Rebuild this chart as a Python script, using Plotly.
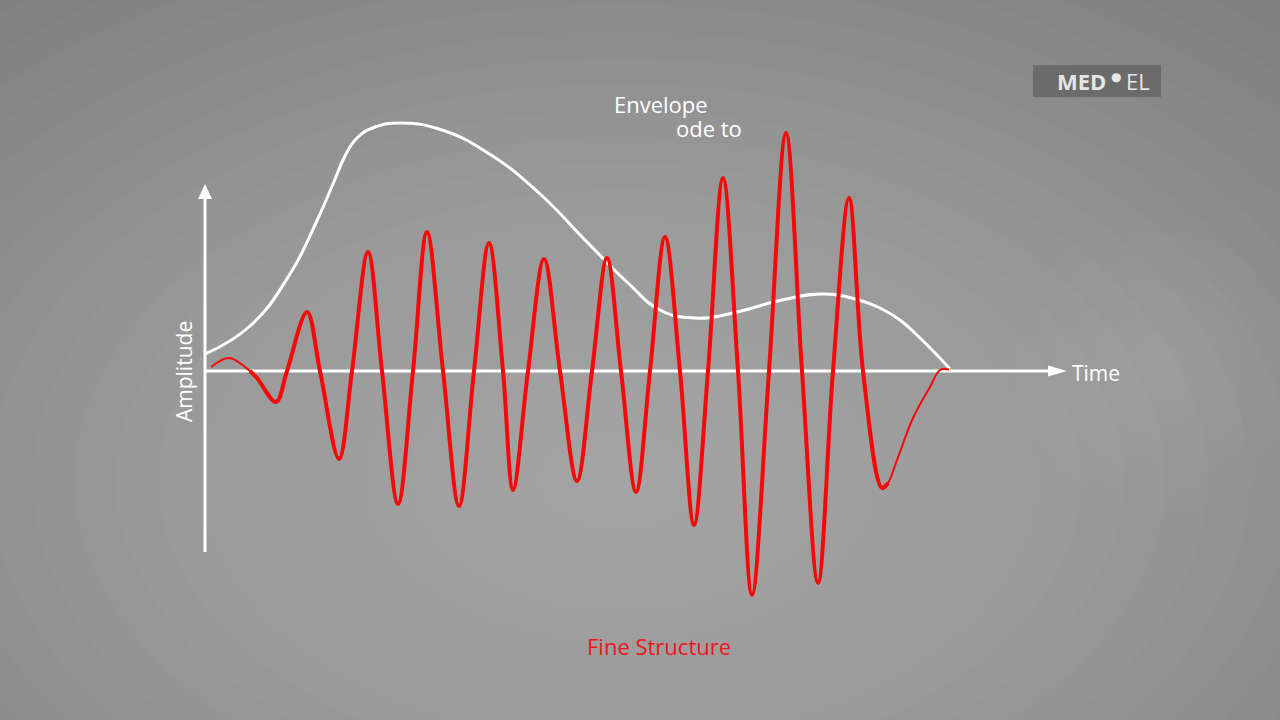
import plotly.graph_objects as go

# ---------------- data (time measured from origin, amplitude above the time axis) ----
fs_time = [6, 24, 45, 52, 71, 82, 102, 115, 134, 147, 163, 177, 193, 208, 222, 238, 254,
           269, 284, 298, 308, 323, 339, 355, 372, 387, 402, 416, 431, 445, 460, 475,
           489, 503, 518, 533, 547, 564, 581, 597, 613, 628, 644, 658, 677, 683, 692, 708,
           725, 735, 744]
fs_amp = [4, 13, 0, -7, -31, 0, 59, 0, -88, 0, 119, 0, -133, 0, 139, 0, -135,
          0, 128, 0, -119, 0, 112, 0, -110, 0, 113, 0, -121, 0, 134, 0,
          -154, 0, 193, 0, -224, 0, 238, 0, -212, 0, 173, 0, -117, -112, -89, -47,
          -16, 1, 1.5]

env_time = [0, 45, 85, 110, 128, 140, 152, 170, 195, 237, 286, 334,
            383, 422, 455, 489, 528, 577, 620, 654, 675, 695, 715, 732, 745]
env_amp = [17, 45, 97, 146, 187, 215, 233, 244, 248, 241, 216, 178,
           128, 89, 61, 53, 58, 71, 77, 71, 63, 51, 33, 16, 2]

labels = {"envelope_1": "Envelope", "envelope_2": "ode to", "time": "Time",
          "amplitude": "Amplitude", "fine": "Fine Structure"}

# ---------------- layout helpers ----------------
W, H = 1280, 720
OX, OY = 205, 371          # origin of the time/amplitude axes in the picture
FONT = "Open Sans"
RED = "#f50808"

fig = go.Figure()

# envelope (white)
fig.add_trace(go.Scatter(x=env_time, y=env_amp, mode="lines",
                         line=dict(color="white", width=3, shape="spline", smoothing=1.3),
                         hoverinfo="skip"))

# fine structure: thin full wave, thick body drawn on top
i_start = 2     # thick part begins here
i_end = 45      # thick part ends here
fig.add_trace(go.Scatter(x=fs_time, y=fs_amp, mode="lines",
                         line=dict(color=RED, width=2, shape="spline", smoothing=1.0),
                         hoverinfo="skip"))
fig.add_trace(go.Scatter(x=fs_time[i_start:i_end + 1], y=fs_amp[i_start:i_end + 1], mode="lines",
                         line=dict(color=RED, width=4, shape="spline", smoothing=1.0),
                         hoverinfo="skip"))

shapes = []
# radial grey background built from stacked translucent ellipses
N = 25
cx, cy, rx, ry = 620, 480, 1050, 660
for i in range(N):
    r = 1 - i / N
    shapes.append(dict(type="circle", xref="paper", yref="paper", layer="below",
                       x0=(cx - rx * r) / W, x1=(cx + rx * r) / W,
                       y0=1 - (cy + ry * r) / H, y1=1 - (cy - ry * r) / H,
                       fillcolor="white", opacity=0.019, line=dict(width=0)))
# bright spot on the right
cx2, cy2, r2 = 1165, 365, 150
for i in range(8):
    r = 1 - i / 8
    shapes.append(dict(type="circle", xref="paper", yref="paper", layer="below",
                       x0=(cx2 - r2 * r) / W, x1=(cx2 + r2 * r) / W,
                       y0=1 - (cy2 + r2 * r) / H, y1=1 - (cy2 - r2 * r) / H,
                       fillcolor="white", opacity=0.01, line=dict(width=0)))

# axes with arrow heads (data units equal pixels here)
shapes.append(dict(type="line", x0=0, x1=846, y0=0, y1=0, xref="x", yref="y", layer="below",
                   line=dict(color="white", width=3)))
shapes.append(dict(type="path", path="M 843,5.5 L 862,0 L 843,-5.5 Z", xref="x", yref="y",
                   layer="below", fillcolor="white", line=dict(width=0)))
shapes.append(dict(type="line", x0=0, x1=0, y0=-181, y1=175, xref="x", yref="y", layer="below",
                   line=dict(color="white", width=3)))
shapes.append(dict(type="path", path="M -7,172 L 0,187 L 7,172 Z", xref="x", yref="y",
                   layer="below", fillcolor="white", line=dict(width=0)))
# logo box
shapes.append(dict(type="rect", x0=1033 - OX, x1=1161 - OX, y0=OY - 97, y1=OY - 65,
                   xref="x", yref="y", layer="above", fillcolor="#6b6b6b", line=dict(width=0)))

annotations = [
    dict(x=407, y=267, text=labels["envelope_1"], xanchor="left", yanchor="middle",
         font=dict(family=FONT, size=22, color="white")),
    dict(x=469, y=243, text=labels["envelope_2"], xanchor="left", yanchor="middle",
         font=dict(family=FONT, size=22, color="white")),
    dict(x=865, y=-2, text=labels["time"], xanchor="left", yanchor="middle",
         font=dict(family=FONT, size=21, color="white")),
    dict(x=-21, y=-1, text=labels["amplitude"], textangle=-90, xanchor="center", yanchor="middle",
         font=dict(family=FONT, size=21, color="white")),
    dict(x=454, y=-275, text=labels["fine"], xanchor="center", yanchor="middle",
         font=dict(family=FONT, size=22, color="#ec1419")),
    # logo text
    dict(x=1055 - OX, y=OY - 81, text="<b>MED</b>", xanchor="left", yanchor="middle",
         font=dict(family=FONT, size=22, color="#e6e6e6")),
    dict(x=1116 - OX, y=OY - 77, text="●", xanchor="center", yanchor="middle",
         font=dict(family="DejaVu Sans", size=12, color="#e6e6e6")),
    dict(x=1124 - OX, y=OY - 81, text="EL", xanchor="left", yanchor="middle",
         font=dict(family=FONT, size=22, color="#e6e6e6")),
]
for a in annotations:
    a.update(xref="x", yref="y", showarrow=False)

fig.update_layout(
    width=W, height=H,
    margin=dict(l=0, r=0, t=0, b=0, pad=0),
    paper_bgcolor="#7c7c7c",
    plot_bgcolor="rgba(0,0,0,0)",
    showlegend=False,
    xaxis=dict(range=[-OX, W - OX], visible=False, fixedrange=True),
    yaxis=dict(range=[OY - H, OY], visible=False, fixedrange=True),
    shapes=shapes,
    annotations=annotations,
    hovermode=False,
)

fig.write_html("out.html", config={"displayModeBar": False},
               post_script="document.body.style.margin='0px';document.body.style.overflow='hidden';")
